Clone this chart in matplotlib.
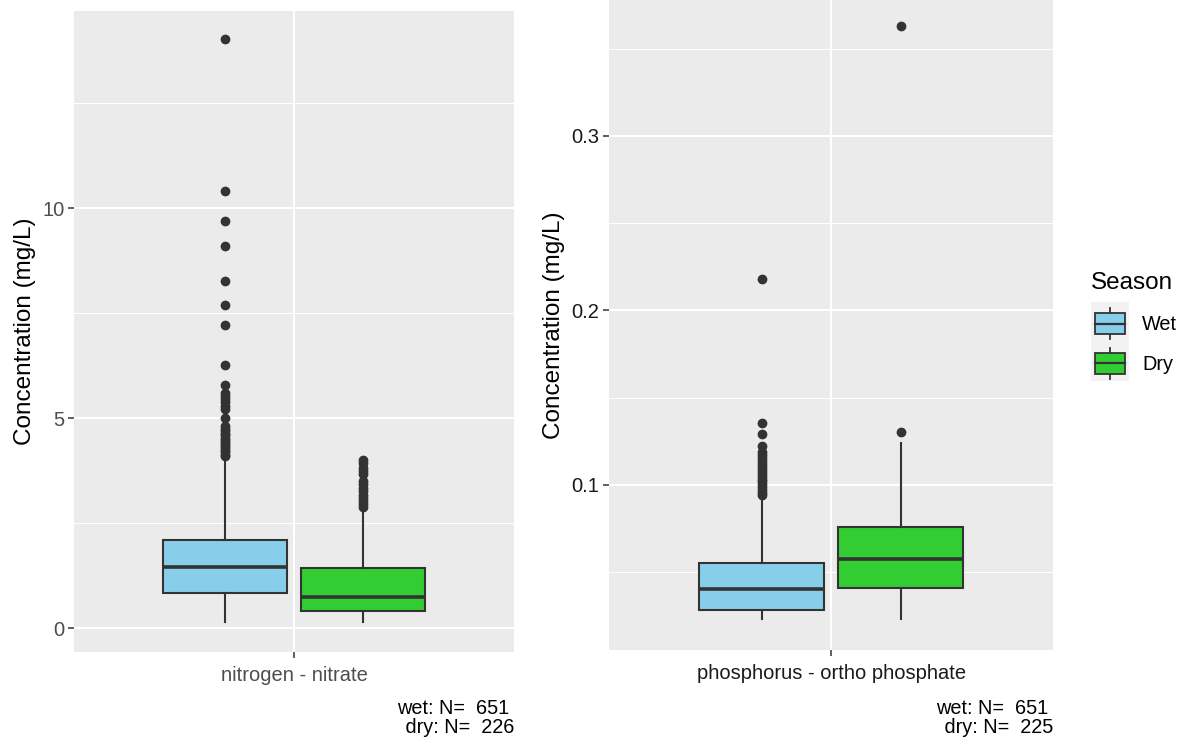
import numpy as np
import matplotlib
matplotlib.use('Agg')
import matplotlib.pyplot as plt
from matplotlib.ticker import MultipleLocator
from matplotlib.patches import Rectangle

plt.rcParams['font.family'] = ['Liberation Sans', 'DejaVu Sans']

# data
seasons = ['Wet', 'Dry']
season_colors = ['#87CEEB', '#32CD32']

# box stats: q1, median, q3, lower whisker, upper whisker  (mg/L)
no3_wet = [0.838, 1.457, 2.107, 0.16, 4.05]
no3_dry = [0.417, 0.743, 1.433, 0.16, 2.82]
no3_wet_out = [14.04, 10.41, 9.70, 9.10, 8.27, 7.71, 7.23, 6.28, 5.80, 5.61,
               5.53, 5.46, 5.38, 5.30, 5.22, 5.00, 4.81, 4.76, 4.71, 4.64,
               4.60, 4.54, 4.49, 4.45, 4.38, 4.35, 4.29, 4.24, 4.20, 4.14, 4.10]
no3_dry_out = [4.01, 3.94, 3.82, 3.75, 3.68, 3.50, 3.43, 3.35, 3.27, 3.18,
               3.10, 3.03, 2.96, 2.90]

po4_wet = [0.0284, 0.0404, 0.0553, 0.0232, 0.0931]
po4_dry = [0.0410, 0.0576, 0.0759, 0.0232, 0.1240]
po4_wet_out = [0.218, 0.1355, 0.1292, 0.1224, 0.1188, 0.1170, 0.1152, 0.1136,
               0.1120, 0.1101, 0.1087, 0.1069, 0.1052, 0.1036, 0.1021, 0.1003,
               0.0987, 0.0970, 0.0956, 0.0943]
po4_dry_out = [0.363, 0.1304]

panel_labels = ['nitrogen - nitrate', 'phosphorus - ortho phosphate']
n_wet = [651, 651]
n_dry = [226, 225]

W, H = 1186, 742
fig = plt.figure(figsize=(W / 100, H / 100), dpi=100)


def rect(x0, y0, x1, y1):
    return [x0 / W, 1 - y1 / H, (x1 - x0) / W, (y1 - y0) / H]


def stats(s, out):
    return dict(q1=s[0], med=s[1], q3=s[2], whislo=s[3], whishi=s[4],
                fliers=np.array(out))


def draw_panel(ax, wet, dry, wet_out, dry_out, ylim, major, minor, label,
               tick_color, ylabelpad):
    ax.set_facecolor('#EBEBEB')
    for sp in ax.spines.values():
        sp.set_visible(False)
    ax.yaxis.set_major_locator(MultipleLocator(major))
    ax.yaxis.set_minor_locator(MultipleLocator(minor))
    ax.grid(which='major', color='white', lw=1.5)
    ax.grid(which='minor', axis='y', color='white', lw=0.75)
    ax.set_axisbelow(True)

    bp = ax.bxp([stats(wet, wet_out), stats(dry, dry_out)],
                positions=[1 - 0.1875, 1 + 0.1875], widths=0.3375,
                patch_artist=True, showcaps=False,
                boxprops=dict(edgecolor='#333333', lw=1.5),
                whiskerprops=dict(color='#333333', lw=1.5),
                medianprops=dict(color='#333333', lw=2.6, solid_capstyle='butt'),
                flierprops=dict(marker='o', markerfacecolor='#333333',
                                markeredgecolor='#333333', markersize=6,
                                linestyle='none'))
    for patch, c in zip(bp['boxes'], season_colors):
        patch.set_facecolor(c)

    ax.set_xlim(0.4, 1.6)
    ax.set_ylim(*ylim)
    ax.set_xticks([1])
    ax.set_xticklabels([label])
    ax.tick_params(which='major', length=4, width=1.1, color='#333333',
                   labelsize=14.5, labelcolor=tick_color, pad=3)
    ax.tick_params(axis='x', which='major', pad=6)
    ax.tick_params(which='minor', length=0)
    ax.set_ylabel('Concentration (mg/L)', fontsize=17.5, color='black',
                  labelpad=ylabelpad)


ax1 = fig.add_axes(rect(74, 11, 514.3, 652.3))
draw_panel(ax1, no3_wet, no3_dry, no3_wet_out, no3_dry_out, (-0.567, 14.70),
           5, 2.5, panel_labels[0], '#4D4D4D', 4.5)

ax2 = fig.add_axes(rect(609, 0, 1053.3, 650.3))
draw_panel(ax2, po4_wet, po4_dry, po4_wet_out, po4_dry_out, (0.00527, 0.3779),
           0.1, 0.05, panel_labels[1], '#1A1A1A', 4.5)

# captions with sample sizes
for ax_right, nw, nd in [(514.3, n_wet[0], n_dry[0]), (1053.3, n_wet[1], n_dry[1])]:
    fig.text(ax_right / W, 1 - 699 / H,
             'wet: N=  %d \n dry: N=  %d' % (nw, nd),
             ha='right', va='top', ma='right', fontsize=14.3, color='black',
             linespacing=1.0)

# legend drawn in pixel space
lg = fig.add_axes([0, 0, 1, 1])
lg.set_xlim(0, W)
lg.set_ylim(H, 0)
lg.axis('off')
lg.text(1091, 283, 'Season', fontsize=17.5, va='center', ha='left')
lg.add_patch(Rectangle((1090.5, 302), 38.5, 78.5, facecolor='#F2F2F2',
                       edgecolor='none'))
key_tops = [302, 341.5]
label_y = [325, 365]
for top, c, name, ly in zip(key_tops, season_colors, seasons, label_y):
    xc = 1109.5
    lg.plot([xc, xc], [top + 6, top + 37], color='#333333', lw=1.3)
    lg.add_patch(Rectangle((1094.5, top + 11), 30, 21, facecolor=c,
                           edgecolor='#333333', lw=1.3, zorder=3))
    lg.plot([1094.5, 1124.5], [top + 21.5, top + 21.5], color='#333333',
            lw=1.6, zorder=4)
    lg.text(1142, ly, name, fontsize=14.3, va='center', ha='left')

fig.savefig('out.png', dpi=100)
